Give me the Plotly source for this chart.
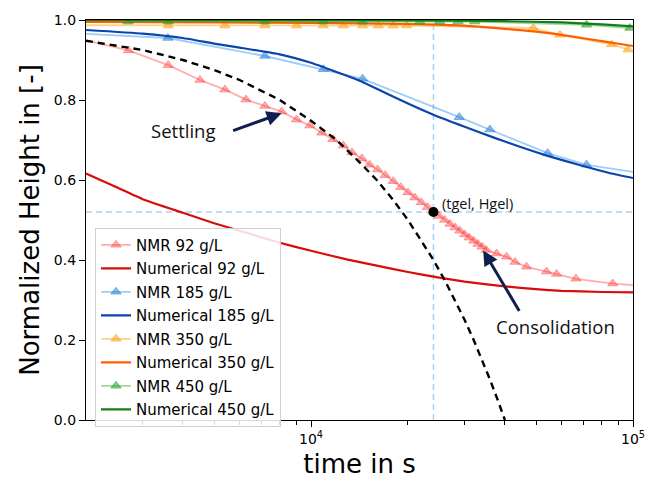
import math
import plotly.graph_objects as go

# ---- data: normalized height vs. time ----
# NMR 92 g/L
t_nmr92 = [1800, 2710, 3600, 4520, 5400, 6280, 7190, 8110, 9020, 9920, 10800, 11700, 12600,
           13400, 14400, 15200, 16100, 17000, 18000, 19000, 20000, 21000, 22000, 23000,
           24000, 25000, 26000, 27000, 28000, 29000, 30000, 31000, 32000, 33000, 34000,
           35000, 37700, 40500, 43000, 46700, 53900, 57900, 66500, 86500, 110000]
h_nmr92 = [0.958, 0.924, 0.887, 0.850, 0.826, 0.801, 0.785, 0.771, 0.751, 0.736, 0.718, 0.702,
           0.686, 0.669, 0.654, 0.638, 0.626, 0.612, 0.597, 0.582, 0.569, 0.556, 0.544, 0.532,
           0.520, 0.510, 0.500, 0.490, 0.481, 0.473, 0.464, 0.456, 0.448, 0.440, 0.433,
           0.425, 0.416, 0.408, 0.395, 0.383, 0.371, 0.365, 0.353, 0.341, 0.335]

# Numerical 92 g/L
t_num92 = [2000, 2500, 3000, 4000, 5000, 6000, 8000, 10000, 13000, 16000, 20000, 25000,
           30000, 40000, 50000, 60000, 80000, 100000]
h_num92 = [0.616, 0.581, 0.552, 0.518, 0.492, 0.473, 0.443, 0.423, 0.401, 0.386, 0.370,
           0.356, 0.346, 0.334, 0.327, 0.323, 0.320, 0.319]

# NMR 185 g/L
t_nmr185 = [1700, 3590, 7190, 10920, 14460, 28860, 35930, 54300, 71740, 110000]
h_nmr185 = [0.968, 0.955, 0.910, 0.877, 0.853, 0.757, 0.726, 0.667, 0.638, 0.615]

# Numerical 185 g/L
t_num185 = [2000, 3000, 4000, 5000, 6000, 8000, 10000, 12000, 14000, 16000, 20000, 24000,
            30000, 37000, 45000, 54000, 70000, 85000, 100000]
h_num185 = [0.975, 0.966, 0.955, 0.941, 0.931, 0.914, 0.893, 0.870, 0.850, 0.828, 0.791,
            0.763, 0.733, 0.706, 0.682, 0.661, 0.635, 0.617, 0.605]

# NMR 350 g/L
t_nmr350 = [1700, 3600, 5400, 7190, 9020, 10920, 12600, 14460, 16180, 18000, 19820, 49000,
            59300, 85800, 96600]
h_nmr350 = [0.987, 0.986, 0.986, 0.986, 0.986, 0.986, 0.986, 0.986, 0.986, 0.986, 0.986,
            0.980, 0.963, 0.939, 0.926]

# Numerical 350 g/L
t_num350 = [2000, 5000, 10000, 20000, 30000, 40000, 50000, 60000, 80000, 100000]
h_num350 = [0.995, 0.994, 0.993, 0.990, 0.986, 0.978, 0.971, 0.963, 0.947, 0.935]

# NMR 450 g/L
t_nmr450 = [2700, 3600, 7190, 10920, 14460, 21780, 25100, 28610, 32230, 71740, 97800]
h_nmr450 = [0.996, 0.996, 0.996, 0.996, 0.996, 0.996, 0.996, 0.996, 0.996, 0.988, 0.980]

# Numerical 450 g/L
t_num450 = [2000, 20000, 40000, 60000, 80000, 100000]
h_num450 = [1.000, 0.999, 0.997, 0.994, 0.989, 0.984]

# Free-settling line (dashed)
t_settle = [2000, 3000, 4000, 5000, 6000, 8000, 10000, 12000, 14000, 16000, 18000, 20000,
            22000, 24000, 26000, 28000, 30000, 32000, 34000, 36000, 38000, 40000]
h_settle = [0.948, 0.925, 0.900, 0.875, 0.850, 0.800, 0.748, 0.700, 0.648, 0.600, 0.550,
            0.500, 0.448, 0.400, 0.350, 0.300, 0.250, 0.200, 0.150, 0.100, 0.050, 0.000]

# Gel point
t_gel = [24000]
h_gel = [0.520]

x_ticks = [1e4, 1e5]
x_tick_text = ["10<sup>4</sup>", "10<sup>5</sup>"]
x_minor = [3000, 4000, 5000, 6000, 7000, 8000, 9000,
           20000, 30000, 40000, 50000, 60000, 70000, 80000, 90000]
y_ticks = [0.0, 0.2, 0.4, 0.6, 0.8, 1.0]

FONT = "DejaVu Sans"

fig = go.Figure()


def nmr(t, h, name, line_rgba, marker_rgba, group):
    fig.add_trace(go.Scatter(
        x=t, y=h, mode="lines+markers", name=name, legendgroup=group,
        line=dict(color=line_rgba, width=1.8),
        marker=dict(symbol="triangle-up", size=9, color=marker_rgba,
                    line=dict(color=marker_rgba, width=1)),
    ))


def num(t, h, name, color, group):
    fig.add_trace(go.Scatter(
        x=t, y=h, mode="lines", name=name, legendgroup=group,
        line=dict(color=color, width=2.2, shape="spline", smoothing=0.4),
    ))


nmr(t_nmr92, h_nmr92, "NMR 92 g/L", "rgba(255,60,60,0.42)", "rgba(255,60,60,0.42)", "a")
num(t_num92, h_num92, "Numerical 92 g/L", "#d90c0c", "b")
nmr(t_nmr185, h_nmr185, "NMR 185 g/L", "rgba(40,145,235,0.45)", "rgba(30,120,215,0.5)", "c")
num(t_num185, h_num185, "Numerical 185 g/L", "#0a45ad", "d")
nmr(t_nmr350, h_nmr350, "NMR 350 g/L", "rgba(255,165,20,0.5)", "rgba(255,160,20,0.55)", "e")
num(t_num350, h_num350, "Numerical 350 g/L", "#ff5d00", "f")
nmr(t_nmr450, h_nmr450, "NMR 450 g/L", "rgba(40,170,40,0.45)", "rgba(40,160,40,0.55)", "g")
num(t_num450, h_num450, "Numerical 450 g/L", "#137d17", "h")

fig.add_trace(go.Scatter(
    x=t_settle, y=h_settle, mode="lines", showlegend=False,
    line=dict(color="black", width=2.4, dash="7px,5px"),
))
fig.add_trace(go.Scatter(
    x=t_gel, y=h_gel, mode="markers", showlegend=False,
    marker=dict(color="black", size=10),
))

# gel-point guide lines
fig.add_shape(type="line", xref="x", yref="paper", x0=t_gel[0], x1=t_gel[0], y0=0, y1=1,
              line=dict(color="#a9d3f5", width=1.5, dash="6px,4px"), layer="below")
fig.add_shape(type="line", xref="paper", yref="y", x0=0, x1=1, y0=h_gel[0], y1=h_gel[0],
              line=dict(color="#a9d3f5", width=1.5, dash="6px,4px"), layer="below")

ARROW = "#0f1f4f"
LABEL_FONT = dict(family="Open Sans", size=18.5, color="#111")
fig.add_annotation(x=math.log10(8105), y=0.767, ax=-50, ay=18, axref="pixel", ayref="pixel",
                   text="", showarrow=True, arrowhead=2, arrowsize=1.0, arrowwidth=3,
                   arrowcolor=ARROW)
fig.add_annotation(x=math.log10(4000), y=0.723, text="Settling", showarrow=False,
                   font=LABEL_FONT)
fig.add_annotation(x=math.log10(34250), y=0.424, ax=37, ay=62, axref="pixel", ayref="pixel",
                   text="", showarrow=True, arrowhead=2, arrowsize=1.0, arrowwidth=3,
                   arrowcolor=ARROW)
fig.add_annotation(x=math.log10(57600), y=0.233, text="Consolidation", showarrow=False,
                   font=LABEL_FONT)
fig.add_annotation(x=math.log10(25150), y=0.542, text="(tgel, Hgel)", showarrow=False,
                   xanchor="left", font=dict(family="Open Sans", size=14.5, color="#111"))

fig.update_layout(
    width=659, height=485,
    margin=dict(l=86, r=26, t=15, b=62),
    paper_bgcolor="white", plot_bgcolor="white",
    font=dict(family=FONT, color="black"),
    showlegend=True,
    legend=dict(
        x=0.0165, y=0.481, xanchor="left", yanchor="top",
        bgcolor="rgba(255,255,255,0.85)", bordercolor="#d0d0d0", borderwidth=1,
        font=dict(family=FONT, size=15), traceorder="grouped", tracegroupgap=1,
        itemwidth=30,
    ),
)

fig.update_xaxes(
    type="log", range=[math.log10(2000), 5],
    tickvals=x_ticks, ticktext=x_tick_text,
    ticks="outside", ticklen=6, tickwidth=1.2, tickcolor="black",
    tickfont=dict(family=FONT, size=14),
    minor=dict(tickvals=x_minor, ticks="outside", ticklen=3.5, tickwidth=1, tickcolor="black"),
    showline=True, linecolor="black", linewidth=1.3, mirror=True,
    showgrid=False, zeroline=False,
    title=dict(text="time in s", font=dict(family=FONT, size=26), standoff=8),
)
fig.update_yaxes(
    range=[0, 1.0], tickvals=y_ticks, tickformat=".1f",
    ticks="outside", ticklen=6, tickwidth=1.2, tickcolor="black",
    tickfont=dict(family=FONT, size=14),
    showline=True, linecolor="black", linewidth=1.3, mirror=True,
    showgrid=False, zeroline=False,
    title=dict(text="Normalized Height in [-]", font=dict(family=FONT, size=26), standoff=6),
)

fig.write_html("out.html")
